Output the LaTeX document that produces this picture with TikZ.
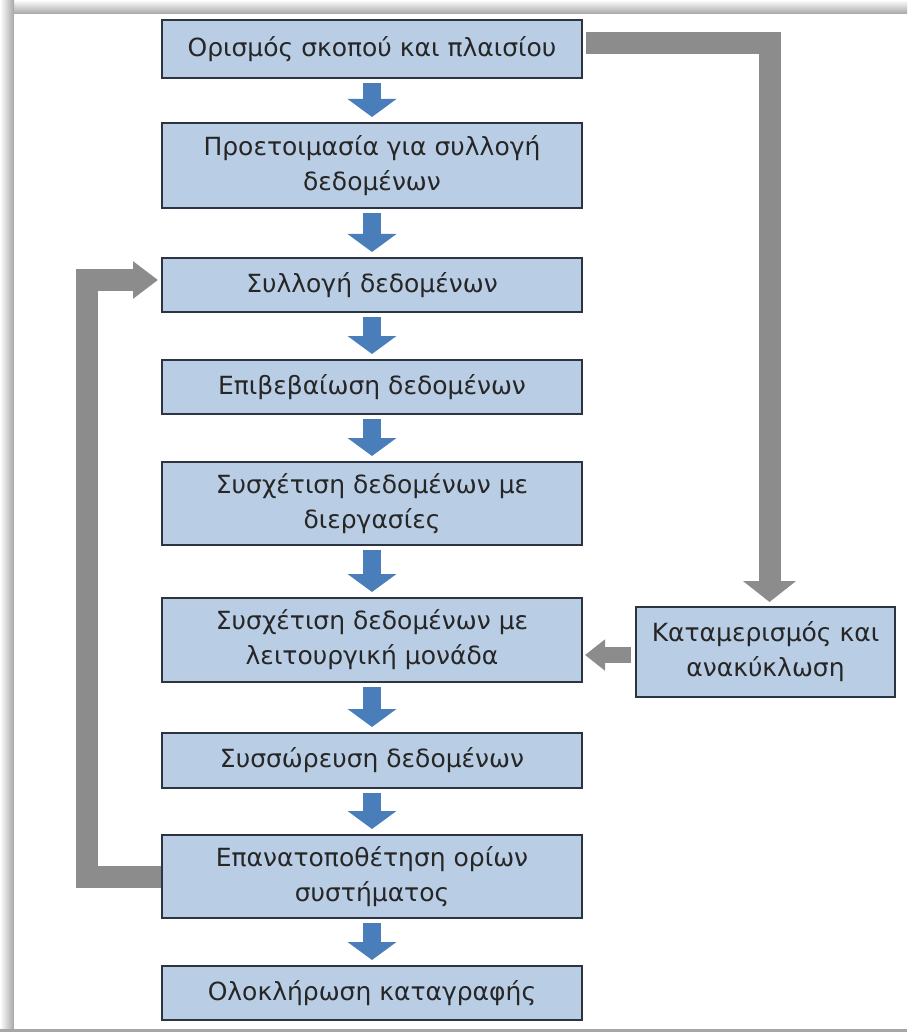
\documentclass[tikz,border=0pt]{standalone}
\usepackage{fontspec}
\setmainfont{DejaVu Sans}
\usepackage{xcolor}
\usetikzlibrary{arrows.meta,positioning}

\definecolor{boxblue}{HTML}{B9CDE5}
\definecolor{boxedge}{HTML}{2B3440}
\definecolor{flowblue}{HTML}{4A7EBB}
\definecolor{loopgray}{HTML}{8C8C8C}

\tikzset{
  stepbox/.style={draw=boxedge,line width=1pt,fill=boxblue,inner sep=0pt,
    minimum width=210pt,align=center,font=\fontsize{12.5}{17.5}\selectfont,text=black!85},
  blueflow/.style={flowblue,line width=9pt,shorten <=2pt,shorten >=2.5pt,
    -{Triangle[width=24pt,length=9pt]}},
  grayflow/.style={loopgray,line width=11pt,
    -{Triangle[width=26pt,length=10.5pt]}}
}

\begin{document}
\begin{tikzpicture}[x=0.5pt,y=-0.5pt]
\useasboundingbox (0,0) rectangle (907,1032);
% frame of the screenshot
\shade[top color=white,bottom color=gray!70] (0,0) rectangle (907,14);
\shade[left color=white,right color=gray!70] (0,0) rectangle (14,1032);
\fill[gray!70] (0,1029) rectangle (907,1032);
\fill[white] (14,14) rectangle (907,1029);

% main column
\node[stepbox,minimum height=29pt] (b1) at (372,49) {Ορισμός σκοπού και πλαισίου};
\node[stepbox,minimum height=42.5pt] (b2) at (372,165.5) {Προετοιμασία για συλλογή\\δεδομένων};
\node[stepbox,minimum height=27pt] (b3) at (372,285) {Συλλογή δεδομένων};
\node[stepbox,minimum height=27pt] (b4) at (372,387) {Επιβεβαίωση δεδομένων};
\node[stepbox,minimum height=41.5pt] (b5) at (372,503.5) {Συσχέτιση δεδομένων με\\διεργασίες};
\node[stepbox,minimum height=42pt] (b6) at (372,640) {Συσχέτιση δεδομένων με\\λειτουργική μονάδα};
\node[stepbox,minimum height=27.5pt] (b7) at (372,760.5) {Συσσώρευση δεδομένων};
\node[stepbox,minimum height=41.5pt] (b8) at (372,876.5) {Επανατοποθέτηση ορίων\\συστήματος};
\node[stepbox,minimum height=27pt] (b9) at (372,993) {Ολοκλήρωση καταγραφής};

% side box
\node[stepbox,minimum width=129.5pt,minimum height=45pt] (recycle) at (765.5,652) {Καταμερισμός και\\ανακύκλωση};

% blue arrows down the column
\foreach \a/\b in {b1/b2,b2/b3,b3/b4,b4/b5,b5/b6,b6/b7,b7/b8,b8/b9}
  \draw[blueflow] (\a) -- (\b);

% gray arrows
\draw[grayflow,shorten <=1.5pt,shorten >=2pt] ([yshift=3pt]b1.east) -| ([xshift=2pt]recycle.north);
\draw[loopgray,line width=8pt,shorten <=2pt,shorten >=1pt,
  -{Triangle[width=15pt,length=10pt]}] ([yshift=-1.5pt]recycle.west) -- ([yshift=-1.5pt]recycle.west -| b6.east);
\draw[loopgray,line width=11pt,shorten >=1.5pt,
  -{Triangle[width=18pt,length=12.5pt]}] (b8.west) -- ++(-37pt,0) |- ([yshift=2.5pt]b3.west);
\end{tikzpicture}
\end{document}
